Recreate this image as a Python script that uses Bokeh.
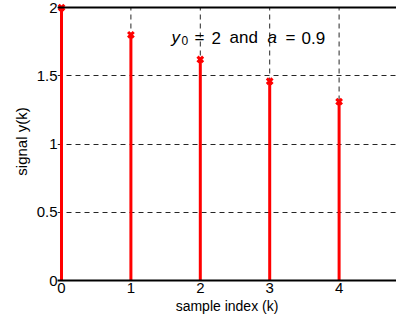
from bokeh.plotting import figure
from bokeh.models import ColumnDataSource, Range1d, FixedTicker, Span
from bokeh.core.properties import value
from bokeh.embed import file_html
from bokeh.resources import INLINE

# data
sample_index = [0, 1, 2, 3, 4]
signal = [2.0, 1.8, 1.62, 1.46, 1.31]
baseline = [0, 0, 0, 0, 0]
x_ticks = [0, 1, 2, 3, 4]
y_ticks = [0, 0.5, 1, 1.5, 2]
y_tick_labels = ["0", "0.5", "1", "1.5", "2"]
x_label = "sample index (k)"
y_label = "signal y(k)"
note_parts = ["y", "0", "=", "2", "and", "a", "=", "0.9"]

FONT = "Liberation Sans"

src = ColumnDataSource(dict(k=sample_index, y=signal, b=baseline))
y_lo, y_hi = min(y_ticks), max(y_ticks)

p = figure(width=396, height=316, output_backend="svg", toolbar_location=None,
           x_range=Range1d(-0.0576, 4.827), y_range=Range1d(0, 2.037),
           min_border_left=57, min_border_top=2, min_border_right=0, min_border_bottom=0)
p.outline_line_color = None
p.background_fill_color = "white"
p.border_fill_color = "white"

# axes
p.xaxis.ticker = FixedTicker(ticks=x_ticks)
p.yaxis.ticker = FixedTicker(ticks=y_ticks)
p.yaxis.major_label_overrides = {t: l for t, l in zip(y_ticks, y_tick_labels)}
for ax in (p.xaxis[0], p.yaxis[0]):
    ax.axis_line_color = "black"
    ax.axis_line_width = 2
    ax.major_tick_in = 0
    ax.major_tick_out = 0
    ax.minor_tick_line_color = None
    ax.major_label_text_font = FONT
    ax.major_label_text_font_size = "15px"
    ax.major_label_text_color = "black"
    ax.axis_label_text_font = FONT
    ax.axis_label_text_font_size = "14px"
    ax.axis_label_text_font_style = "normal"
    ax.axis_label_text_color = "black"
p.yaxis.axis_line_color = None
p.xaxis.axis_label = x_label
p.yaxis.axis_label = y_label
p.yaxis.axis_label_text_font_size = "15px"
p.xaxis.major_label_standoff = 2
p.xaxis.axis_label_standoff = 2
p.yaxis.major_label_standoff = 0
p.yaxis.axis_label_standoff = 4

# grid: horizontal via ygrid, vertical drawn between y limits
p.xgrid.visible = False
p.ygrid.grid_line_color = "black"
p.ygrid.grid_line_dash = "5 4"
p.ygrid.grid_line_width = 1
p.ygrid.grid_line_alpha = 0.85
p.segment(x0=x_ticks, y0=[y_lo] * len(x_ticks), x1=x_ticks, y1=[y_hi] * len(x_ticks),
          line_color="black", line_dash="5 4", line_width=1, line_alpha=0.85)

# top border
p.add_layout(Span(location=y_hi, dimension="width", line_color="black", line_width=2))

# stems
p.segment(x0="k", y0="b", x1="k", y1="y", source=src, line_color="red", line_width=3)
p.scatter(x="k", y="y", source=src, marker="x", size=8, line_color="red", line_width=3)

# annotation
anchor_x, anchor_y = 1.585, 1.779
offsets = [0, 10, 23, 40, 58, 96, 114, 130]
sizes = ["17px", "12px", "17px", "17px", "17px", "17px", "17px", "17px"]
styles = ["italic", "normal", "normal", "normal", "normal", "italic", "normal", "normal"]
yoffs = [0, 3, 0, 0, 0, 0, 0, 0]
for txt, dx, fs, st, dy in zip(note_parts, offsets, sizes, styles, yoffs):
    p.text(x=[anchor_x], y=[anchor_y], text=[txt], x_offset=dx, y_offset=dy,
           text_font=value(FONT), text_font_size=fs, text_font_style=st,
           text_color="black", text_align="left", text_baseline="alphabetic")

open("out.html", "w").write(file_html(p, INLINE))
